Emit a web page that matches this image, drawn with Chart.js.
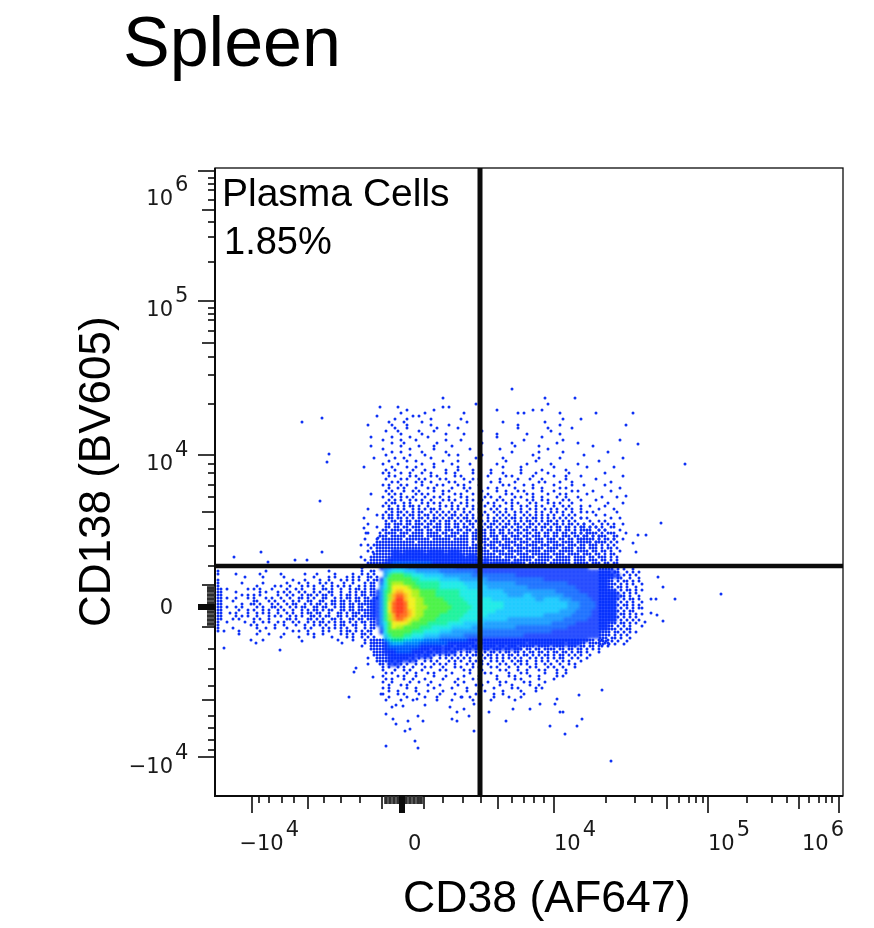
<!DOCTYPE html>
<html>
<head>
<meta charset="utf-8">
<title>Spleen</title>
<script src="https://cdn.jsdelivr.net/npm/chart.js@4"></script>
<style>
  html, body { margin: 0; padding: 0; background: #fff; }
  canvas { display: block; }
</style>
</head>
<body>
<canvas id="chart" width="874" height="928"></canvas>
<script>
'use strict';

// All values are display channels of the two biexponential axes (0-628)
const xTickLong  = [37, 339, 493, 624];
const xTickMid   = [93, 167, 209, 283, 452, 584];
const xTickShort = [44, 54, 67, 79, 109, 126, 145, 228, 248, 266, 297, 309, 319, 329, 391, 420, 437, 464, 474, 481, 488, 532, 557, 572, 594, 604, 611, 617];
const xTickDense = [171, 175, 179, 183, 187, 191, 195, 199, 203, 206];
const xTickZero  = 187;

const yTickLong  = [625, 495, 341, 39];
const yTickMid   = [586, 453, 284, 211, 169, 96];
const yTickShort = [618, 612, 606, 596, 574, 559, 534, 488, 482, 476, 465, 439, 421, 392, 332, 323, 311, 299, 267, 250, 230, 147, 127, 110, 80, 68, 56, 46];
const yTickDense = [172, 176, 180, 184, 189, 193, 197, 201, 205, 208];
const yTickZero  = 189;

const xLabelText = ['\u221210', '0', '10', '10', '10'];
const xLabelExp  = ['4', '', '4', '5', '6'];
const xLabelAt   = [42, 193, 339, 493, 587];

const yLabelText = ['10', '10', '10', '0', '\u221210'];
const yLabelExp  = ['6', '5', '4', '', '4'];
const yLabelAt   = [591, 480, 326, 182, 23];

const gateX = 265;
const gateY = 230;

// Density of the main population, 4 channels per cell, read by colour band
const densityRows = [
  '',
  '',
  '0000011011111011110111',
  '00000111111111111111111011',
  '00001111111111111111111111101',
  '0001122222222221111111111111101111011',
  '0012233332222222222221111111111111111111111111111111110',
  '0003455544433333322222222211111111111111111111111111111111111',
  '00036777665554444433333332222222222211111111111111111111111111',
  '00157777776655555444443333333222222222222221111111111111111',
  '00257888777666666555555444443333333322222222222221111111111',
  '00357999987766666555555544444333333333322222222222211111111',
  '013679aa99887777666666555554444443333333333333222222111111111',
  '01368abba98877776666665555544444443333443333333322222211111111',
  '11368acca99887777766666555555544444444444334444333222221111110',
  '11369bccb99887777776666655555555544444444444444443332222111110',
  '11369bccb99888777777666665555555544444444444444443332222111110',
  '11369bccba9887777776666655555554444444444444444333322221111110',
  '11368acbba9887777666666555555444444444444443333333222221111110',
  '01368abba98877776666665555544444443333333333333322222211111110',
  '01357999987777666665555444443333333333333333322222211111111',
  '00257988777766655555444443333333333322222222222221111111111',
  '0015777777666555544433333332222222222222222221111111111110',
  '0004677766555444433333322222222222222211111111111111111110',
  '0003566655444333322222221111111111111111111111111111110',
  '0001344433332222222111111111111111111111111111111111',
  '0001222222221111111111111111111111111',
  '00011122221111111111100',
  '00001111111111100',
  '0000111111100',
  '000011100'
];
const densityX0 = 159;
const densityY0 = 252;
const densityColors = {
  1: '#0a34ff', 2: '#0060ff', 3: '#0092ff', 4: '#00c4ff', 5: '#00e8e4', 6: '#00f090',
  7: '#34f030', 8: '#a4f000', 9: '#f2ee00', a: '#ffb000', b: '#ff5a00', c: '#ff2600'
};

// Single events around the population, 3 channels per column and row
const upperRows = [
  '..................................................o',
  '',
  '',
  '...........................o.................................o.........o',
  '',
  '......................................o.......................o',
  '......o.....o..............o.o',
  '...............o........o....................o...........o..o',
  '.............o.......o............o.................o.o...........o...........o',
  '.....o...........o.o',
  '...........o...o.......o.........o.................................o.....o',
  '.........o....o.....o..............o...........o.............o.........',
  '..o.......o....o.......o.....o......................o.............o....',
  '...........o...o.........o......o...................o.........o.......o',
  '........o...o......o....o...............o......................o.......',
  '.............o......o.......o.....o..........o.........o..........o.....',
  '...o......o.....o.....o......................o..............o...........',
  '.......o.....o....o.........o....o....................o............o....',
  '..........o...o..........o..............o.........o..............o......o',
  '...o.........o.....o....o.....o....................o.......o............',
  '.......o........o.......o...........o.........o...............o.........',
  '..........o..o......o.......o.....................o........o.......o....',
  '........o.......o....o.......o..o.......o................o..............',
  '....o......o..o........o..............o........o...........o......o.....',
  '.........o.....o..o........o....o...............o.........o.............',
  '.......o....o.......o...o.....o.....o........o.........o.......o........o',
  '..........o....o..o.....o.......o..............o.....o..........o.......',
  '........o..o.....o...o......o...o....o.....o.........o......o.......o...',
  '.......o.o...o..o...o..o....o..o.....o.....o...o.....o....o...o......o..',
  '.........o.o....o.o....o.o.....o.o........o.....o.o......o......o...o...',
  '........o....o.o...o.o....o.o.....o..o.o......o.....o...o...o.......o....',
  '..........o.o.....o.o..o.....o.o....o......o..o....o.......o.o....o...o..',
  '.......o.o...o.o....o....o.o....o.o....o.......o.o....o..o......o.....o..',
  '.........o..o.o...o...o.o.....o...o.o.....o..o.....o.....o..o.....o.o....',
  '........o.o...o..o.o....o..o.o.....o....o....o..o...o.o.....o...o.....o.o',
  '...o.....o.o.o....o.o.o....o...o.o...o....o.....o.o....o.o....o...o.o....',
  '.......o..o..o.o.o...o..o.o..o...o.o.....o.o..o....o.o...o..o....o..o...o',
  '.........o.o.o..o.o.o..o...o.o.o...o.o..o....o.o..o....o.o..o.o....o.o...',
  '........o.oo..o.o...o.o.o.o...o..o.o...o..o.o...o.o.o...o.o...o.o.o...o..',
  '.......o.o..o.o.oo.o..o...o.o.o.o..o.o...o..o.o...o..o.o..o.o...o..o.o...o',
  '..o......oo.o.o..o.o.o.oo.o...o.o.o..o.o...o.o..o.o..o..o.o..o.o.o..o.o...',
  '........o.o.oo.o.o.oo..o.o.o.o.o..o.o..o.o..o.o.o..o.o.o..o.o..o.o.o..o..o',
  '.....o.o.oo.o.o.oo.o.oo.o.o.o.oo.o.o.o..o.o..o.o.o.o..o.o.o.o.o.o..o.o.o..',
  '.......o.oo.oo.o.o.oo.o.oo.o.oo.o.oo.o.o..o.o.o.o.oo.o.o.oo.o.o.o.o.o.o..o',
  '........o.oo.o.oo.oo.o.oo.o.oo.o.o.oo.o.o.o.oo.o.o.o.o.oo.o.o.oo.o.o.o.o...',
  '..o.....oo.ooo.oo.ooo.oo.oo.oo.oo.o.oo.o.o.oo.o.oo.oo.o.oo.o.oo.oo.o.oo.o.o..o....o',
  '.....o..oo.oo.oo.ooo.oo.ooo.oo.oo.oo.o.oo.oo.o.oo.o.oo.oo.o.oo.o.oo.oo.o.oo.o.o.o...o',
  '.......oo.oooo.oo.ooo.oo.oo.ooo.oo.oo.o.oo.oo.oo.o.oo.oo.oo.o.oo.oo.oo.o.oo.o..o.o.',
  '..o...o.oooo.ooo.oooo.oooo.oo.ooo.oo.oo.oo.oo.oo.oo.oo.oo.oo.oo.oo.oo.oo.o.oo.o.o..o',
  '......ooo.ooooo.ooooo.ooooo.oooo.ooo.oo.oo.ooo.oo.ooo.oo.ooo.oo.oo.ooo.oo.oo.o.oo...o',
  '.o...o.ooooooo.oooooooo.oooooo.ooooo.oo.ooo.oo.ooo.ooo.oo.ooo.ooo.oo.oo.ooo.oo.o.o..o',
  '.....ooooooooooooo.ooooooooooooooooo.o.ooo.oooo.oooo.ooo.oooo.oooo.oooo.oo.oo.oo.o.o',
  '..o.oooooooooooooooooooooooooooooooo.ooo.oooo.oooo.ooo.oooo.ooo.oooo.ooo.oo.ooo.o.o.o',
  '.....ooooooooooooooooooooooooooooooooooooo.ooo.oooo.oooo.oooo.oooo.oooo.ooo.ooo.o.oo.o',
  '..o..oooooooooooooooooooooooooooooooooooooo.oooo.ooooo.ooooo.oooo.ooooo.oooo.oo.oo.o..o',
  '....ooooooooooooooooooooooooooooooooooooooooo.ooooo.oooo.oooooo.oooo.oooo.ooo.oo.o.oo',
  '...oooooooooooooooooooooooooooooooooooooooooooo.oooo.ooooo.ooooo.ooooo.oooo.oo.ooo.o.o',
  '.o.ooooooooooooooooooooooooooooooooooooooooooooooo.oooooo.ooooo.oooooo.oooo.ooo.oo.o.o',
  '..ooooooooooooooooooooooooooooooooooooooooooooooooooooo.oooooo.ooooooo.ooooo.ooo.oo.oo'
];
const upperX0 = 147;
const upperY0 = 407;

// Right shoulder of the upper events
const upperRightRows = [
  '..............o...',
  '',
  '.....o............',
  '',
  '..........o.......',
  '..o...............',
  '...............o..',
  '.......o..........',
  '',
  '...o........o.....',
  '',
  '.........o........',
  '.o.............o..',
  '......o...........',
  '...........o......',
  '..o......o........',
  '..............o...',
  '.....o.....o......',
  '...o.............',
  '........o....o....',
  '.o....o...........',
  '..........o....o..',
  '....o....o........',
  '.o.....o....o.....',
  '...o.o.......o....',
  '......o..o........',
  '.o.o.......o..o...',
  '....o..o.o........',
  '..o.....o...o..o..',
  '.o..o.o....o......',
  '...o...o.o....o...',
  '.o.o.o....o.o.....',
  '..o..o.o.o...o....',
  '.o.o...o..o.o..o..',
  '..o.o.o.o....o....'
];
const upperRightX0 = 363;
const upperRightY0 = 356;

const lowerRows = [
  '...ooooooooooooooooooooooooooooooooooooooooooooooooooooooooooooooooooooooooooo.oo.o',
  '...ooooooooooooooooooooooooooooooooooo.oooooooooooooooo.oooooooooooo.oooooo.oooo.oo',
  '...oooooooooooooooooooooooo.ooo.oooo.ooo.oooo.oo.ooo.ooooo.oooo.oooo.ooo.oo.oo.oo.o',
  '...oooooooooooooooooooo.ooo.oo.ooo.oo.oo.oo.ooo.oo.ooo.oo.oo.oooo.oo.oo.oo.o.o.o',
  '....ooooooooooooooooo.oo.oo.o.oo.o.oo.oo.o.oo.o.oo.oo.o.oo.oo.o.oo.oo.o.oo.o...o',
  '....oooooooooooooo.o.oo.o.o.oo.o.o.o.oo.o.oo.o.o.oo.o.oo.o.o.oo.o.oo.o.o.o..o',
  '.....ooooooooooo.o.o.o.o..o.o.o.o.o.o..o.o.o.o.o.o.o.o..o.o.o.o.o.oo..o.o..o',
  '.....oooooo.oo..o.o..o.o.o...o.o.o..o.o.o..o.o.o..o.oo.o..o.o.o..o.o.o...o',
  '..o...oo.o.o.o.o..o.o...o.o.o..o...o.o..o.o...o.o..o.o.o..o..o.o..o..o.o',
  '.......o.o..o.o..o...o.o...o...o.o...o.o...o.o...o..o...o.o...o.o..o...o',
  '.......o...o..o.o...o.....o.o.....o.o...o.....o.o...o..o...o.o...o..o.',
  '........o.o....o..o...o.o.....o.....o....o.o.....o...o.o.....o...o..o.',
  '.......o....o.o...o.....o...o.....o....o.....o...o.o....o..o.....o.o..',
  '........o.o...o..o...o.....o....o....o.o.....o.....o.o.....o....o...',
  '.......o..o.....o..o...o.......o..o.......o...o.o.....o.o....o......',
  '.........o...o.o......o...o.....o.....o.o.....o...o.....o..o........',
  '.......o.o.....o..o.....o.....o....o........o.....o.o.....o.o...',
  '.........o..o.....o...o....o.......o...o.o.....o.....o....o...',
  '.......o....o.o....o......o....o......o.....o..o......o.....',
  '.........o.....o.....o...o.......o..o.......o....o...o....',
  '........o....o...o.......o....o......o.....o.......o.'
];
const lowerX0 = 147;
const lowerY0 = 156;

const rightRows = [
  'oooo.o.o.o.....',
  'ooooo.o.o..o...',
  'oooo.oo..o.o.o.',
  'ooooo.o.o.o.o..',
  'ooooo.oo..o..o.',
  'ooooo.o.oo.o.o.',
  'oooooo.o.o.o..o',
  'ooooo.oo.o..o..',
  'oooooo.o.oo.o.o',
  'ooooooo.o.o.o..',
  'oooooo.oo.o..o.',
  'ooooooo.o.oo.o.',
  'oooooo.o.o.o..o',
  'ooooooo.oo.o.o.',
  'oooooo.o.o.o.oo',
  'ooooooo.o.oo...',
  'oooooo.oo.o.o.o',
  'ooooooo.o.o.o..',
  'oooooo.o.o.o.o.',
  'oooooo.oo.o.o..',
  'ooooo.o.o.o...o',
  'oooooo.o.oo....',
  'oooo.oo.o.o.o..',
  'oooo.o.o.o.....',
  'ooo.oo.o..o....',
  'ooo.o.o..o.....',
  'oo.o.o..o......'
];
const rightX0 = 385;
const rightY0 = 230;

const leftRows = [
  '................................................o.....',
  'o...............o....................o..........o..oo.',
  'o.....o.......o......o.......o...o.....o.....o..o.o.o.',
  '.........o.....o......o.........o....o.o...o.o.o..oo.o',
  'o........................o...o....o..o...o.o.o.o..o.oo',
  'o.......o......o.......o...o..o...o.o.o...o..o...o.oo',
  'o............o.....o.o..o...o.o.o..o..o.o.o.o..o.o.oo',
  'oo.o......o.o.o...o....o..o.o...o..oo.o..o..o.oo.o.oo',
  'oo....o.......o.o...o.o.o..o.o..o.o..oo..o..o.o.oo.oo',
  'oo......o.o.o.o.....o..o.o..o.oo.o.oo.o..o.oo.o.oo.oo',
  'oo.o..o...o.o...o.o..o..o..oo.o.o..oo..o.o.oo.oo.oo.oo',
  'oo...o......oo...o.o..o..o.o..oo..oo..oo.oo.o.oo.oooo',
  'oo......o..oo.o...o.o..o.oo..o.o.oo.o.oo.oo.oo.oooooo',
  'oo.o..o.o....o.o..oo.o..o.o.oo..oo.oo..o.oo.oo.oo.ooo',
  'oo.....o..o.o..o.o..o.o..o..o.o.oo.o.oo..oo.oo.oooooo',
  'oo..o.o...o..o.o.o..o..o.o..o.oo.oo..o..oo.o.ooo.oooo',
  'oo....o.o.o..o...o.o.o..o.o.o..oo.o.oo..oo.o.oo.ooooo',
  'oo...o.o....o.o..o.....oo.o...oo.o.o..oo.o..oo.oo.ooo',
  'o..o.....o..o..o.o..o.o..o.o..o.o.oo.o.o.oo.o.o.oo.oo',
  'o..........o.o.....o..o...o..o..o.o.o..o.oo..oo..o.oo',
  'o....o.......o..o..o...o.....o.o...o.o.o.o.o..o..o.oo',
  'o.o....o......o..........o.o..o....o.o...o.oo.o.o.oo.',
  '.......o.....o...o....o.......o.o..o.....o.o.o..oo.o',
  '.....................o.....o....o.....o....o.o..o.o.o',
  '...........o...o........................o....o...o..',
  '.................................................o..o',
  '................................................o....'
];
const leftX0 = 3;
const leftY0 = 228;

// Far outliers, one by one
const outlierX = [87, 107, 114, 112, 149, 105, 149, 149, 151, 146, 107, 46, 19, 53, 80, 92, 146, 156, 158, 163, 470, 446, 431, 423, 418, 423, 421, 418, 411, 411, 411, 443, 448, 460, 436, 441, 448, 442, 436, 430, 506, 396, 134, 139, 141, 153, 158, 166, 171, 171, 200, 203, 190, 195, 181, 178, 193, 203, 208, 237, 242, 254, 259, 242, 249, 235, 259, 247, 274, 291, 298, 315, 325, 335, 350, 362, 367, 345, 348, 342, 340, 387, 364, 9, 65, 127, 41, 87, 181, 177, 188, 202, 210];
const outlierY = [374, 378, 342, 334, 329, 295, 278, 268, 263, 251, 244, 244, 239, 234, 236, 236, 239, 248, 244, 258, 332, 273, 261, 261, 383, 352, 244, 253, 371, 300, 263, 219, 209, 197, 197, 197, 175, 181, 183, 174, 202, 35, 99, 124, 128, 138, 119, 102, 82, 50, 55, 48, 65, 67, 72, 77, 75, 80, 75, 77, 75, 80, 65, 84, 87, 89, 92, 99, 84, 75, 87, 87, 92, 70, 62, 70, 77, 84, 84, 97, 92, 106, 101, 148, 146, 153, 153, 155, 91, 89, 90, 97, 91];

function stipplePoints(rows, x0, y0) {
  const pts = [];
  rows.forEach((row, r) => {
    for (let c = 0; c < row.length; c++) {
      if (row[c] === 'o') pts.push({ x: x0 + c * 3, y: y0 - r * 3 });
    }
  });
  return pts;
}

function densityPoints() {
  const pts = [];
  densityRows.forEach((row, r) => {
    for (let c = 0; c < row.length; c++) {
      if (row[c] !== '0') pts.push({ x: densityX0 + c * 4, y: densityY0 - r * 4, level: row[c] });
    }
  });
  return pts;
}

const singles = [
  ...stipplePoints(upperRows, upperX0, upperY0),
  ...stipplePoints(upperRightRows, upperRightX0, upperRightY0),
  ...stipplePoints(lowerRows, lowerX0, lowerY0),
  ...stipplePoints(rightRows, rightX0, rightY0),
  ...stipplePoints(leftRows, leftX0, leftY0),
  ...outlierX.map((x, i) => ({ x, y: outlierY[i] }))
];

const BLACK = '#0b0b0b';

// Box, tick marks, tick labels and the free text of the plot
const flowAxes = {
  id: 'flowAxes',
  beforeDatasetDraw(chart, args) {
    const ds = chart.data.datasets[args.index];
    if (!ds.blurPx) return;
    chart.ctx.save();
    chart.ctx.filter = `blur(${ds.blurPx}px)`;
  },
  afterDatasetDraw(chart, args) {
    if (chart.data.datasets[args.index].blurPx) chart.ctx.restore();
  },
  afterDraw(chart) {
    const { ctx, chartArea: a, scales: { x, y } } = chart;
    ctx.save();

    ctx.strokeStyle = BLACK;
    ctx.lineWidth = 1.3;
    ctx.strokeRect(a.left, a.top, a.right - a.left, a.bottom - a.top);
    ctx.lineWidth = 2;
    ctx.beginPath();
    ctx.moveTo(a.left, a.top);
    ctx.lineTo(a.left, a.bottom);
    ctx.lineTo(a.right, a.bottom);
    ctx.stroke();

    const xTick = (v, len, w, color) => {
      const p = x.getPixelForValue(v);
      ctx.strokeStyle = color || BLACK;
      ctx.lineWidth = w;
      ctx.beginPath(); ctx.moveTo(p, a.bottom); ctx.lineTo(p, a.bottom + len); ctx.stroke();
    };
    const yTick = (v, len, w, color) => {
      const p = y.getPixelForValue(v);
      ctx.strokeStyle = color || BLACK;
      ctx.lineWidth = w;
      ctx.beginPath(); ctx.moveTo(a.left, p); ctx.lineTo(a.left - len, p); ctx.stroke();
    };
    xTickDense.forEach(v => xTick(v, 8, 3.6, '#2e2e2e'));
    yTickDense.forEach(v => yTick(v, 8, 3.6, '#2e2e2e'));
    xTickShort.forEach(v => xTick(v, 7, 1.6));
    yTickShort.forEach(v => yTick(v, 7, 1.6));
    xTickMid.forEach(v => xTick(v, 13, 1.6));
    yTickMid.forEach(v => yTick(v, 13, 1.6));
    xTickLong.forEach(v => xTick(v, 17, 1.6));
    yTickLong.forEach(v => yTick(v, 17, 1.6));
    xTick(xTickZero, 17, 6);
    yTick(yTickZero, 17, 6);

    ctx.fillStyle = '#1a1a1a';
    ctx.font = '21px "DejaVu Sans"';
    ctx.textBaseline = 'alphabetic';
    ctx.textAlign = 'left';
    xLabelText.forEach((t, i) => {
      const px = x.getPixelForValue(xLabelAt[i]);
      const w = ctx.measureText('10').width;
      const lead = t === '0' ? 0 : ctx.measureText(t).width - w;
      ctx.fillText(t, px - lead, 850);
      if (xLabelExp[i]) ctx.fillText(xLabelExp[i], px + w + 2, 836);
    });
    yLabelText.forEach((t, i) => {
      const py = y.getPixelForValue(yLabelAt[i]);
      ctx.textAlign = 'right';
      ctx.fillText(t, 173, py);
      ctx.textAlign = 'left';
      if (yLabelExp[i]) ctx.fillText(yLabelExp[i], 175, py - 14);
    });

    ctx.fillStyle = '#000';
    ctx.textAlign = 'left';
    ctx.font = '70px "Liberation Sans"';
    ctx.fillText('Spleen', 123, 66);
    ctx.font = '39px "Liberation Sans"';
    ctx.fillText('Plasma Cells', 222, 206);
    ctx.font = '38px "Liberation Sans"';
    ctx.fillText('1.85%', 224, 254);
    ctx.font = '44.6px "Liberation Sans"';
    ctx.fillText('CD38 (AF647)', 403, 912);
    ctx.font = '44px "Liberation Sans"';
    ctx.save();
    ctx.translate(110, 627);
    ctx.rotate(-Math.PI / 2);
    ctx.fillText('CD138 (BV605)', 0, 0);
    ctx.restore();

    ctx.restore();
  }
};

new Chart(document.getElementById('chart'), {
  type: 'scatter',
  data: {
    datasets: [
      {
        label: 'Gate x',
        data: [{ x: gateX, y: 0 }, { x: gateX, y: 628 }],
        showLine: true, borderColor: BLACK, borderWidth: 5, pointRadius: 0, order: 0
      },
      {
        label: 'Gate y',
        data: [{ x: 0, y: gateY }, { x: 628, y: gateY }],
        showLine: true, borderColor: BLACK, borderWidth: 4.5, pointRadius: 0, order: 1
      },
      {
        label: 'Density',
        data: densityPoints(),
        pointStyle: 'rect',
        pointRadius: 3.4,
        pointBorderWidth: 0,
        backgroundColor: ctx => densityColors[ctx.raw.level],
        blurPx: 1.4,
        order: 2
      },
      {
        label: 'Events',
        data: singles,
        pointRadius: 1.5,
        pointBorderWidth: 0,
        backgroundColor: '#0f32f5',
        blurPx: 0.45,
        order: 3
      }
    ]
  },
  options: {
    responsive: false,
    animation: false,
    layout: { padding: { left: 215, right: 31, top: 168, bottom: 132 } },
    plugins: { legend: { display: false }, tooltip: { enabled: false } },
    scales: {
      x: { type: 'linear', min: 0, max: 628, display: true, grid: { display: false }, border: { display: false }, ticks: { display: false }, afterFit: s => { s.height = 0; } },
      y: { type: 'linear', min: 0, max: 628, display: true, grid: { display: false }, border: { display: false }, ticks: { display: false }, afterFit: s => { s.width = 0; } }
    }
  },
  plugins: [flowAxes]
});
</script>
</body>
</html>
